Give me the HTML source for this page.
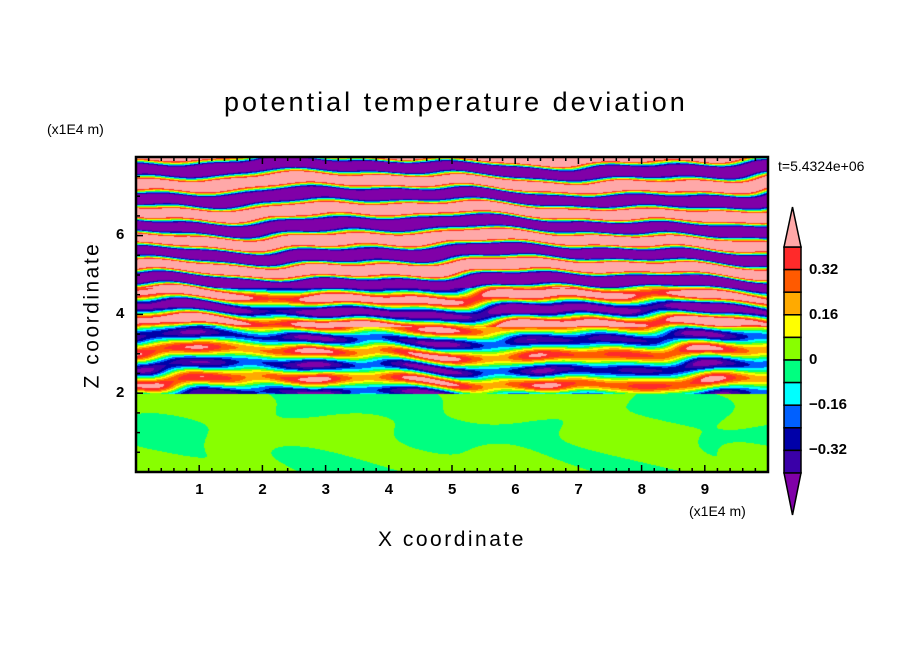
<!DOCTYPE html>
<html><head><meta charset="utf-8"><style>
body{margin:0;background:#fff;}
#w{position:relative;width:904px;height:654px;overflow:hidden;background:#fff;font-family:"Liberation Sans",sans-serif;color:#000;}
.t{position:absolute;white-space:nowrap;line-height:1;}
.b{font-weight:bold;font-size:15px;}
canvas{position:absolute;left:136px;top:157px;}
svg{position:absolute;left:0;top:0;}
</style></head><body><div id="w">
<canvas id="c" width="632" height="315"></canvas>
<svg width="904" height="654" id="s"></svg>
<div class="t" style="left:224px;top:89px;font-size:27px;letter-spacing:3px;">potential temperature deviation</div>
<div class="t" style="left:47px;top:122px;font-size:14px;">(x1E4 m)</div>
<div class="t" style="left:778px;top:159px;font-size:14px;">t=5.4324e+06</div>
<div class="t" style="left:689px;top:504px;font-size:14px;">(x1E4 m)</div>
<div class="t" style="left:378px;top:529px;font-size:21px;letter-spacing:2.5px;">X coordinate</div>
<div class="t" style="left:92px;top:315px;font-size:21px;letter-spacing:2.5px;transform:translate(-50%,-50%) rotate(-90deg);">Z coordinate</div>
<div class="t b" style="left:116px;top:227px;">6</div>
<div class="t b" style="left:116px;top:306px;">4</div>
<div class="t b" style="left:116px;top:385px;">2</div>
<div class="t b" style="left:809px;top:262px;">0.32</div>
<div class="t b" style="left:809px;top:307px;">0.16</div>
<div class="t b" style="left:809px;top:352px;">0</div>
<div class="t b" style="left:809px;top:397px;">−0.16</div>
<div class="t b" style="left:809px;top:442px;">−0.32</div>
<div id="xl"></div>
</div>
<script>
var cols=["#8000a8","#3a00a8","#0000a8","#0060ff","#00ffff","#00ff80","#88ff00","#ffff00","#ffaa00","#ff5a00","#ff2a2a","#ffa8a8"];
function hex(h){return [parseInt(h.substr(1,2),16),parseInt(h.substr(3,2),16),parseInt(h.substr(5,2),16)];}
var rgb=cols.map(hex);
var c=document.getElementById('c'),ctx=c.getContext('2d'),W=632,H=315;
var img=ctx.createImageData(W,H),d=img.data;
for(var py=0;py<H;py++){for(var px=0;px<W;px++){
 var x=px/63.2, z=8-py/39.4, v;
 if(z<2){
  v=0.045*Math.sin(x*2.1+Math.sin(z*2.3)*1.5)*Math.cos(z*2.7+x*0.9)+0.035*Math.sin(x*1.3+z*3.1+1)+0.01;
  if(v>0.075)v=0.075; if(v<-0.075)v=-0.075;
 } else {
  var A = z>4.7 ? 0.8 : (z>3.7?0.5+0.1*Math.sin(x*2.2):0.34+0.06*Math.sin(x*3));
  var ph = 0.9*Math.sin(x*0.8+z*1.1)+0.5*Math.sin(x*2.3+z*0.7)+0.25*Math.sin(x*5.1+z*3)+0.05*x;
  v = A*Math.sin(2*Math.PI*z/0.72 + ph) + 0.08*Math.sin(x*4+z*9);
 }
 var k=Math.floor((v+0.4)/0.08)+1; if(k<0)k=0; if(k>11)k=11;
 var i=(py*W+px)*4; d[i]=rgb[k][0];d[i+1]=rgb[k][1];d[i+2]=rgb[k][2];d[i+3]=255;
}}
ctx.putImageData(img,0,0);
var s='';
s+='<rect x="136" y="157" width="632" height="315" fill="none" stroke="#000" stroke-width="2.5"/>';
for(var i=0;i<=50;i++){var X=136+i*12.64,L=(i%5==0)?7:4;s+='<line x1="'+X+'" y1="472" x2="'+X+'" y2="'+(472-L)+'" stroke="#000" stroke-width="1.5"/><line x1="'+X+'" y1="157" x2="'+X+'" y2="'+(157+L)+'" stroke="#000" stroke-width="1.5"/>';}
for(var j=0;j<=16;j++){var Y=472-j*19.7,L=(j%4==0)?7:4;s+='<line x1="136" y1="'+Y+'" x2="'+(136+L)+'" y2="'+Y+'" stroke="#000" stroke-width="1.5"/>';}
var cbTop=247,hh=22.6;
for(var k=0;k<10;k++){s+='<rect x="784" y="'+(cbTop+k*hh)+'" width="17" height="'+hh+'" fill="'+cols[10-k]+'" stroke="#000" stroke-width="1.5"/>';}
s+='<polygon points="784,247 801,247 792.5,207" fill="'+cols[11]+'" stroke="#000" stroke-width="1.5"/>';
s+='<polygon points="784,473 801,473 792.5,515" fill="'+cols[0]+'" stroke="#000" stroke-width="1.5"/>';
document.getElementById('s').innerHTML=s;
var xl='';for(var n=1;n<=9;n++){xl+='<div class="t b" style="left:'+(136+n*63.2-4)+'px;top:482px;">'+n+'</div>';}
document.getElementById('xl').innerHTML=xl;
</script>
</body></html>
